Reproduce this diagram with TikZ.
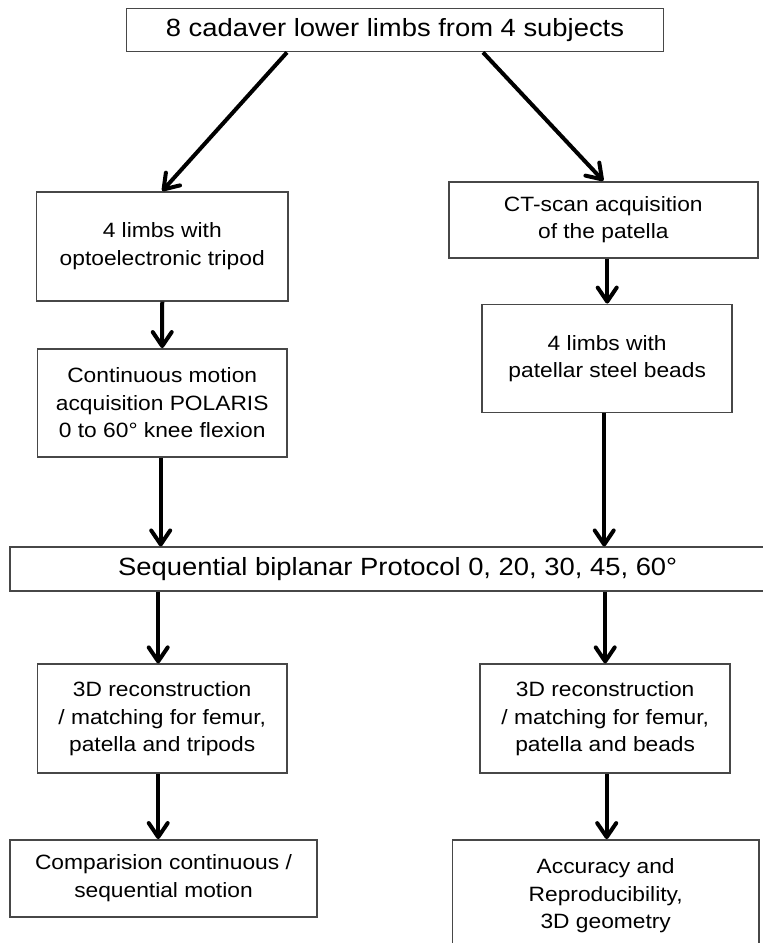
\documentclass[tikz,border=0pt]{standalone}
\usepackage{fontspec}
\setmainfont{Liberation Sans}[FakeStretch=1.1]
\usetikzlibrary{arrows.meta}
\begin{document}
\begin{tikzpicture}[x=1pt,y=-1pt,
  box/.style={draw=black!72, line width=1.8pt, fill=white, align=center, inner sep=0pt,
    font=\fontsize{20.7pt}{27.5pt}\selectfont},
  bigbox/.style={box, font=\fontsize{24.9pt}{30pt}\selectfont},
  arr/.style={line width=4pt, -{Straight Barb[length=14pt,width=19pt,line width=4pt,round]}}]
\useasboundingbox (0,0) rectangle (763,943);
\fill[white] (0,0) rectangle (763,943);
\node[bigbox, minimum width=537pt, minimum height=43pt] (top) at (395,30) {8 cadaver lower limbs from 4 subjects};
\node[box, minimum width=251.5pt, minimum height=109pt] (l1) at (162.25,246.3) {4 limbs with\\optoelectronic tripod};
\node[box, minimum width=309pt, minimum height=76pt] (r1) at (603.3,219.7) {CT-scan acquisition\\of the patella};
\node[box, minimum width=250pt, minimum height=108pt] (r2) at (607.2,358.5) {4 limbs with\\patellar steel beads};
\node[box, minimum width=249.5pt, minimum height=107.7pt] (l2) at (162.2,402.8) {Continuous motion\\acquisition POLARIS\\0 to 60° knee flexion};
\node[bigbox, minimum width=776pt, minimum height=43.7pt] (seq) at (397.7,569.2) {Sequential biplanar Protocol 0, 20, 30, 45, 60°};
\node[box, minimum width=249.5pt, minimum height=109pt] (l3) at (162.2,718.8) {3D reconstruction\\/ matching for femur,\\patella and tripods};
\node[box, minimum width=249.7pt, minimum height=109pt] (r3) at (605.2,718.8) {3D reconstruction\\/ matching for femur,\\patella and beads};
\node[box, minimum width=307.6pt, minimum height=76.7pt] (l4) at (163.5,878.3) {Comparision continuous /\\sequential motion};
\node[box, minimum width=306.5pt, minimum height=112pt] (r4) at (605.7,896) {Accuracy and\\Reproducibility,\\3D geometry};
\draw[arr] ([xshift=-108pt]top.south) -- (l1.north);
\draw[arr] ([xshift=88pt]top.south) -- (r1.north);
\draw[arr] (r2.north |- r1.south) -- (r2.north);
\draw[arr] (l1.south) -- (l2.north);
\draw[arr] ([xshift=-1.5pt]l2.south) -- ([xshift=-1.5pt]l2.south |- seq.north);
\draw[arr] ([xshift=-3pt]r2.south) -- ([xshift=-3pt]r2.south |- seq.north);
\draw[arr] ([xshift=-4pt]l3.north |- seq.south) -- ([xshift=-4pt]l3.north);
\draw[arr] (r3.north |- seq.south) -- (r3.north);
\draw[arr] ([xshift=-4pt]l3.south) -- ([xshift=-4pt]l3.south |- l4.north);
\draw[arr] ([xshift=1.5pt]r3.south) -- ([xshift=1.5pt]r3.south |- r4.north);
\end{tikzpicture}
\end{document}
